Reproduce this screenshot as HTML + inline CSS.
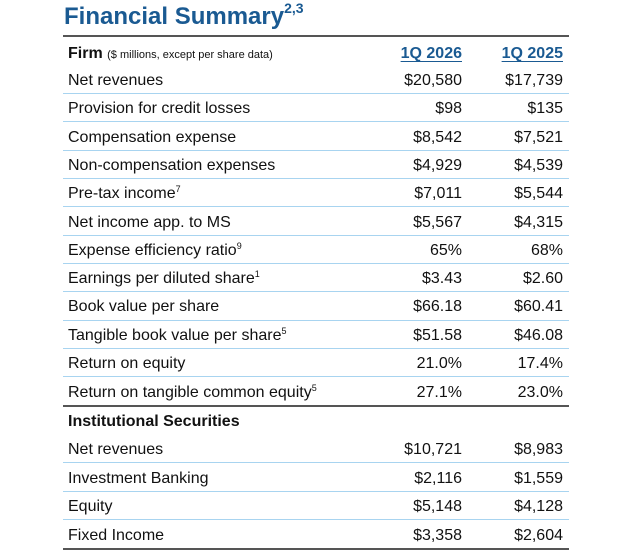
<!DOCTYPE html>
<html><head><style>
body{margin:0;width:630px;height:552px;background:#fff;position:relative;font-family:"Liberation Sans",sans-serif;color:#111;overflow:hidden}
.t{position:absolute;left:64px;top:3px;font-size:24px;font-weight:bold;color:#1a5a92}
.t sup{font-size:14px;position:relative;top:-2px;line-height:0}
.r{position:absolute;left:68px;width:495px;height:20px;font-size:16px;line-height:20px}
.r .a{position:absolute;right:101px;top:0}
.r .b{position:absolute;right:0;top:0}
.r sup{font-size:9px;line-height:0;vertical-align:0;position:relative;top:-6px}
.l{position:absolute;left:63px;width:506px;height:1px;background:#a8d4f0}
.d{position:absolute;left:63px;width:506px;height:2px;background:#555}
.h{font-weight:bold;color:#1a5a92;text-decoration:underline;text-underline-offset:3px}
</style></head><body>
<div class="t">Financial Summary<sup>2,3</sup></div>
<div class="d" style="top:35px"></div>
<div class="r" style="top:44px"><b>Firm</b> <span style="font-size:11px">($ millions, except per share data)</span><span class="a h">1Q 2026</span><span class="b h">1Q 2025</span></div>
<div class="r" style="top:71px">Net revenues<span class="a">$20,580</span><span class="b">$17,739</span></div>
<div class="l" style="top:93px"></div>
<div class="r" style="top:99px">Provision for credit losses<span class="a">$98</span><span class="b">$135</span></div>
<div class="l" style="top:121px"></div>
<div class="r" style="top:128px">Compensation expense<span class="a">$8,542</span><span class="b">$7,521</span></div>
<div class="l" style="top:150px"></div>
<div class="r" style="top:156px">Non-compensation expenses<span class="a">$4,929</span><span class="b">$4,539</span></div>
<div class="l" style="top:178px"></div>
<div class="r" style="top:184px">Pre-tax income<sup>7</sup><span class="a">$7,011</span><span class="b">$5,544</span></div>
<div class="l" style="top:206px"></div>
<div class="r" style="top:213px">Net income app. to MS<span class="a">$5,567</span><span class="b">$4,315</span></div>
<div class="l" style="top:235px"></div>
<div class="r" style="top:241px">Expense efficiency ratio<sup>9</sup><span class="a">65%</span><span class="b">68%</span></div>
<div class="l" style="top:263px"></div>
<div class="r" style="top:269px">Earnings per diluted share<sup>1</sup><span class="a">$3.43</span><span class="b">$2.60</span></div>
<div class="l" style="top:291px"></div>
<div class="r" style="top:297px">Book value per share<span class="a">$66.18</span><span class="b">$60.41</span></div>
<div class="l" style="top:320px"></div>
<div class="r" style="top:326px">Tangible book value per share<sup>5</sup><span class="a">$51.58</span><span class="b">$46.08</span></div>
<div class="l" style="top:348px"></div>
<div class="r" style="top:354px">Return on equity<span class="a">21.0%</span><span class="b">17.4%</span></div>
<div class="l" style="top:376px"></div>
<div class="r" style="top:383px">Return on tangible common equity<sup>5</sup><span class="a">27.1%</span><span class="b">23.0%</span></div>
<div class="d" style="top:405px"></div>
<div class="r" style="top:412px;font-weight:bold">Institutional Securities</div>
<div class="r" style="top:440px">Net revenues<span class="a">$10,721</span><span class="b">$8,983</span></div>
<div class="l" style="top:462px"></div>
<div class="r" style="top:469px">Investment Banking<span class="a">$2,116</span><span class="b">$1,559</span></div>
<div class="l" style="top:491px"></div>
<div class="r" style="top:497px">Equity<span class="a">$5,148</span><span class="b">$4,128</span></div>
<div class="l" style="top:519px"></div>
<div class="r" style="top:526px">Fixed Income<span class="a">$3,358</span><span class="b">$2,604</span></div>
<div class="d" style="top:548px"></div>
</body></html>
